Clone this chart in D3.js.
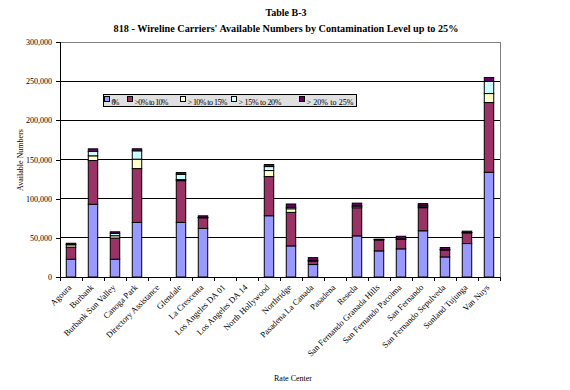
<!DOCTYPE html>
<html><head><meta charset="utf-8">
<script src="https://cdn.jsdelivr.net/npm/d3@7"></script>
<style>body{margin:0;background:#fff}svg{display:block}text{font-family:"Liberation Serif","Times New Roman",serif;fill:#000}</style>
</head><body>
<svg id="c" width="570" height="390"></svg>
<script>
const categories = ["Agoura","Burbank","Burbank Sun Valley","Canoga Park","Directory Assistance","Glendale","La Crescenta","Los Angeles DA 01","Los Angeles DA 14","North Hollywood","Northridge","Pasadena La Canada","Pasadena","Reseda","San Fernando Granada Hills","San Fernando Pacoima","San Fernando","San Fernando Sepulveda","Sunland Tujunga","Van Nuys"];
const seriesNames = ["0%", ">0% to 10%", "> 10% to 15%", "> 15% to 20%", "> 20% to 25%"];
const s0   = [22700, 92800, 22700, 69700, 0, 69700, 62000, 0, 0, 78200, 39700, 15900, 0, 52500, 33300, 35900, 59000, 25600, 42700, 133700];
const s10  = [15400, 55900, 27000, 68700, 0, 53300, 13600, 0, 0, 50000, 42800,  4600, 0, 35900, 14100, 12300, 29500,  9000, 13700,  89000];
const s15  = [ 3000,  6000,  3000, 12000, 0,  1300,   300, 0, 0,  7700,  4600,   200, 0,  2000,   200,   200,  1300,   200,   200,  11500];
const s20  = [  500,  5500,  3000, 10700, 0,  6800,   200, 0, 0,  5100,  1800,   200, 0,   500,   200,   200,  1700,   200,   200,  15400];
const s25  = [ 1500,  3400,  2000,  2600, 0,  2200,  2000, 0, 0,  2600,  4300,  3800, 0,  3400,   500,  3400,  2200,  2600,  1700,   5100];
const yTicks = [0, 50000, 100000, 150000, 200000, 250000, 300000];
const colors = ["#9999FF", "#993366", "#FFFFCC", "#CCFFFF", "#660066"];

const seriesVals = [s0, s10, s15, s20, s25];
const table = categories.map((c, i) => {
  const o = {cat: c};
  seriesNames.forEach((n, k) => o[n] = seriesVals[k][i]);
  return o;
});

const svg = d3.select("#c");
const x = d3.scaleBand().domain(categories).range([60, 500]).paddingInner(0.57).paddingOuter(0.285);
const xb = d3.scaleBand().domain(categories).range([60, 500]);
const y = d3.scaleLinear().domain([0, 300000]).range([277, 42]);

// title
svg.append("text").attr("x", 286).attr("y", 16).attr("text-anchor", "middle")
  .attr("font-size", 10).attr("font-weight", "bold").text("Table B-3");
svg.append("text").attr("x", 286).attr("y", 32).attr("text-anchor", "middle")
  .attr("font-size", 10.2).attr("font-weight", "bold")
  .text("818 - Wireline Carriers' Available Numbers by Contamination Level up to 25%");

// gridlines
svg.append("g").selectAll("line").data(yTicks.filter(t => t > 0 && t < 300000)).join("line")
  .attr("x1", 60).attr("x2", 500).attr("y1", d => y(d)).attr("y2", d => y(d))
  .attr("stroke", "#000").attr("stroke-width", 1).attr("shape-rendering", "crispEdges");
// plot border (top and right)
svg.append("path").attr("d", `M60,${y(300000)}H500V${y(0)}`).attr("fill", "none")
  .attr("stroke", "#808080").attr("shape-rendering", "crispEdges");

// bars
const stack = d3.stack().keys(seriesNames)(table);
svg.append("g").selectAll("g").data(stack).join("g")
  .attr("fill", (d, i) => colors[i])
  .selectAll("rect").data(d => d.filter(p => p[1] - p[0] > 0)).join("rect")
  .attr("x", d => x(d.data.cat)).attr("width", x.bandwidth())
  .attr("y", d => y(d[1])).attr("height", d => y(d[0]) - y(d[1]))
  .attr("stroke", "#000").attr("stroke-width", 1);

// y axis
const ya = svg.append("g").attr("transform", "translate(60,0)")
  .call(d3.axisLeft(y).tickValues(yTicks).tickSize(4).tickPadding(4).tickFormat(d3.format(",")));
ya.selectAll("text").attr("font-size", 8).attr("font-family", "Liberation Serif").attr("fill", "#000");
ya.selectAll("line,path").attr("stroke", "#000").attr("shape-rendering", "crispEdges");

// x axis
const xa = svg.append("g").attr("transform", `translate(0,${y(0)})`);
xa.append("line").attr("x1", 60).attr("x2", 500).attr("stroke", "#000").attr("shape-rendering", "crispEdges");
xa.selectAll("line.t").data(categories.concat(["__end"])).join("line").attr("class", "t")
  .attr("x1", (d, i) => 60 + i * xb.bandwidth()).attr("x2", (d, i) => 60 + i * xb.bandwidth())
  .attr("y1", 0).attr("y2", 4).attr("stroke", "#000").attr("shape-rendering", "crispEdges");
xa.selectAll("text").data(categories).join("text")
  .attr("transform", d => `translate(${xb(d) + xb.bandwidth() / 2 + 1},${11}) rotate(-45)`)
  .attr("text-anchor", "end").attr("font-size", 8.6).text(d => d);

// axis titles
svg.append("text").attr("transform", "translate(23,160) rotate(-90)").attr("text-anchor", "middle")
  .attr("font-size", 8).text("Available Numbers");
svg.append("text").attr("x", 293).attr("y", 381).attr("text-anchor", "middle")
  .attr("font-size", 8).text("Rate Center");

// legend
const lg = svg.append("g");
lg.append("rect").attr("x", 103).attr("y", 94).attr("width", 253).attr("height", 12)
  .attr("fill", "#E0E0E0").attr("stroke", "#000").attr("shape-rendering", "crispEdges");
const lgX = [104.5, 127.5, 180.5, 231.5, 299.5];
const lgW = [8, 34, 40, 43, 47];
seriesNames.forEach((n, i) => {
  lg.append("rect").attr("x", lgX[i]).attr("y", 96.5).attr("width", 5).attr("height", 5)
    .attr("fill", colors[i]).attr("stroke", "#000").attr("stroke-width", 1);
  lg.append("text").attr("x", lgX[i] + 7).attr("y", 105).attr("font-size", 8)
    .attr("textLength", lgW[i]).attr("lengthAdjust", "spacing").text(n);
});
</script>
</body></html>
